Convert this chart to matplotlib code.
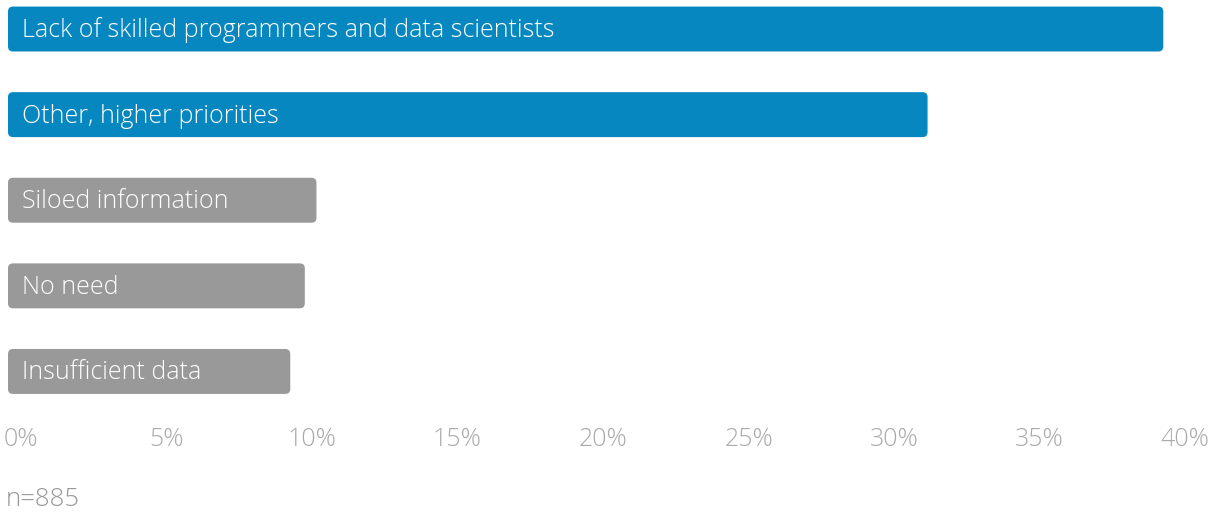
import matplotlib
matplotlib.use('Agg')
import matplotlib.pyplot as plt
from matplotlib.patches import FancyBboxPatch
from matplotlib.transforms import ScaledTranslation

plt.rcParams['font.family'] = ['Open Sans', 'DejaVu Sans']

categories = [
    'Lack of skilled programmers and data scientists',
    'Other, higher priorities',
    'Siloed information',
    'No need',
    'Insufficient data',
]
shares = [39.7, 31.6, 10.6, 10.2, 9.7]
bar_colors = ['#0787bf', '#0787bf', '#999999', '#999999', '#999999']
ticks = [0, 5, 10, 15, 20, 25, 30, 35, 40]
tick_labels = [f'{t}%' for t in ticks]
sample_note = 'n=885'

W, H = 1223, 512
fig = plt.figure(figsize=(W / 100, H / 100), dpi=100)
ax = fig.add_axes([8 / W, (H - 420) / H, 1164 / W, 420 / H])

ypos = list(range(len(categories)))
bars = ax.barh(ypos, shares, height=0.525, color=bar_colors)
ax.set_xlim(0, 40)
ax.set_ylim(4.567, -0.339)

# swap the plain rectangles for rounded ones of the same geometry
fig.canvas.draw()
x_per_px = 40 / ax.bbox.width
y_per_px = (4.567 + 0.339) / ax.bbox.height
aspect = y_per_px / x_per_px
for rect, c in zip(bars, bar_colors):
    x, y = rect.get_xy()
    w, h = rect.get_width(), rect.get_height()
    rect.set_visible(False)
    ax.add_patch(FancyBboxPatch((x, y), w, h,
                                boxstyle=f'round,pad=0,rounding_size={5 * x_per_px}',
                                mutation_aspect=aspect, fc=c, ec='none'))

for yi, label in zip(ypos, categories):
    ax.annotate(label, (0, yi), xytext=(10, -1), textcoords='offset points',
                va='center', ha='left', color='white', fontsize=18,
                fontweight='light')

ax.set_xticks(ticks)
ax.set_xticklabels(tick_labels, fontsize=18, color='#aaaaaa', fontweight='light')
ax.tick_params(axis='x', length=0, pad=5)
ax.set_yticks([])
for lab in ax.get_xticklabels():
    lab.set_transform(lab.get_transform() + ScaledTranslation(0.13, 0, fig.dpi_scale_trans))
for s in ax.spines.values():
    s.set_visible(False)

fig.text(6 / W, 1 - 499 / H, sample_note, fontsize=18.5, color='#999999',
         fontweight='light', va='center', ha='left')

fig.savefig('out.png', dpi=100)
